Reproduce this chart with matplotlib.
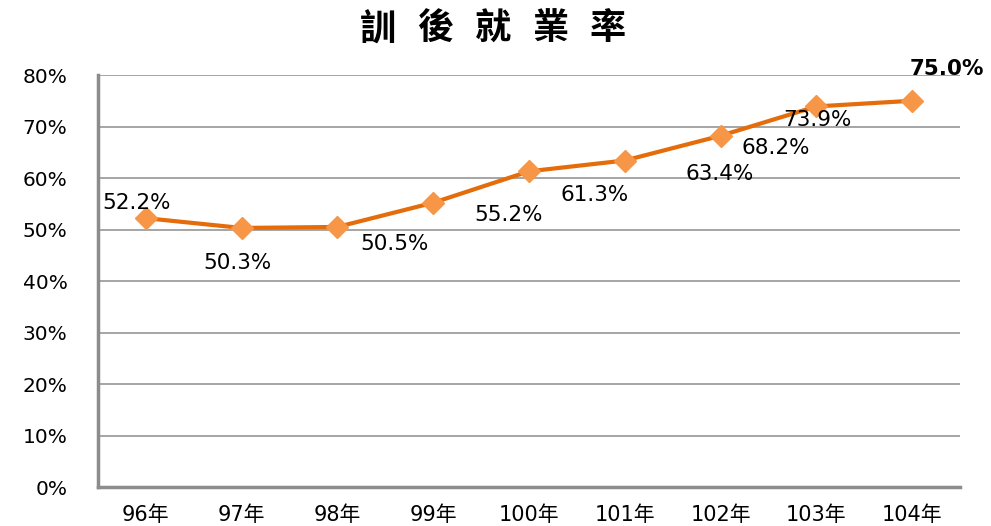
import matplotlib.pyplot as plt
from matplotlib.ticker import PercentFormatter

# data
years = ["96年", "97年", "98年", "99年", "100年", "101年", "102年", "103年", "104年"]
rates = [52.2, 50.3, 50.5, 55.2, 61.3, 63.4, 68.2, 73.9, 75.0]
title_chars = ["訓", "後", "就", "業", "率"]

# label offsets in points (dx, dy), roughly where the original put them
label_offsets = [(-7, 11), (-3, -25), (41, -12), (54, -9), (47, -17),
                 (68, -10), (40, -9), (1, -10), (25, 23)]

plt.rcParams['font.family'] = ['DejaVu Sans', 'Noto Sans CJK TC']

fig = plt.figure(figsize=(9.91, 5.26), dpi=100)
ax = fig.add_axes([0.0989, 0.0741, 0.8698, 0.7833])

x = range(len(years))
ax.plot(x, rates, color="#E46C0A", linewidth=3, marker="D", markersize=11,
        markerfacecolor="#F79646", markeredgecolor="#F79646", zorder=3)

for i, (v, off) in enumerate(zip(rates, label_offsets)):
    bold = i == len(rates) - 1
    ax.annotate(f"{v:.1f}%", (i, v), xytext=off, textcoords="offset points",
                ha="center", va="center", fontsize=15.5,
                fontweight="bold" if bold else "normal", color="black")

ax.set_xlim(-0.5, len(years) - 0.5)
ax.set_ylim(0, 80)
ax.set_yticks(range(0, 81, 10))
ax.yaxis.set_major_formatter(PercentFormatter(decimals=0))
ax.set_xticks(list(x))
ax.set_xticklabels(years, fontsize=15)
ax.tick_params(axis="y", labelsize=14.5, length=0, pad=22)
ax.tick_params(axis="x", length=0, pad=13)

ax.grid(axis="y", color="#969696", linewidth=1.2)
ax.set_axisbelow(True)
for s in ["top", "right"]:
    ax.spines[s].set_visible(False)
for s in ["left", "bottom"]:
    ax.spines[s].set_color("#8C8C8C")
    ax.spines[s].set_linewidth(2.5)

# title, spread out like the original
for i, ch in enumerate(title_chars):
    fig.text(0.3815 + i * 0.058, 0.945, ch, fontsize=26, fontweight="bold",
             family=["Noto Sans CJK TC"], ha="center", va="center")

fig.savefig("out.png", dpi=100)
